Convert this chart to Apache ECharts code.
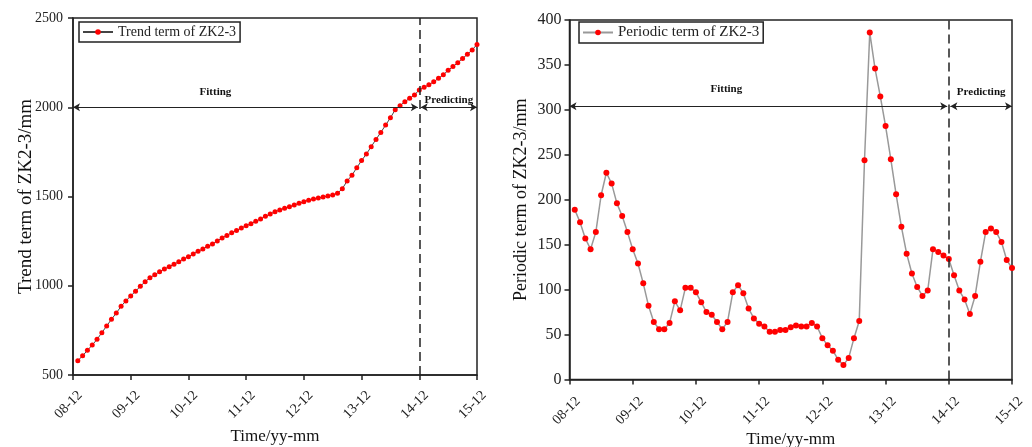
<!DOCTYPE html>
<html><head><meta charset="utf-8">
<script src="https://cdn.jsdelivr.net/npm/echarts@6/dist/echarts.min.js"></script>
<style>html,body{margin:0;padding:0;background:#fff}#c{width:1032px;height:447px}</style>
</head><body><div id="c"></div>
<script>
// Tick labels for the time axis (one per year, month index 0,12,...,84)
const tickLabels = ['08-12','09-12','10-12','11-12','12-12','13-12','14-12','15-12'];
// Trend term of ZK2-3 (mm), monthly from 09-01 to 15-12
const trendValues = [
  580,608,638,668,700,737,775,812,847,885,915,943,
  969,997,1023,1045,1062,1079,1094,1107,1120,1135,1150,1163,
  1178,1193,1206,1221,1234,1251,1268,1282,1297,1310,1324,1336,
  1348,1361,1374,1389,1402,1415,1424,1434,1443,1452,1462,1471,
  1479,1486,1492,1497,1503,1508,1518,1544,1587,1619,1661,1701,
  1738,1779,1820,1859,1900,1941,1986,2009,2031,2050,2069,2097,
  2112,2126,2143,2162,2182,2207,2228,2250,2273,2297,2321,2352
];
// Periodic term of ZK2-3 (mm), monthly from 09-01 to 15-12
const periodicValues = [
  189,175,157,145,164,205,230,218,196,182,164,145,
  129,107,82,64,56,56,63,87,77,102,102,97,
  86,75,72,64,56,64,97,105,96,79,68,62,
  59,53,53,55,55,58,60,59,59,63,59,46,
  38,32,22,16,24,46,65,244,386,346,315,282,
  245,206,170,140,118,103,93,99,145,142,138,134,
  116,99,89,73,93,131,164,168,164,153,133,124
];
const splitMonth = 72;           // 14-12
const trendArrowLevel = 2000;
const periodicArrowLevel = 304;
const legendNames = ['Trend term of ZK2-3','Periodic term of ZK2-3'];

const FONT = '"Liberation Serif","Times New Roman",serif';
const toPairs = arr => arr.map((v, i) => [i + 1, v]);

function xAxisOf(gi, gap, pad) {
  return {
    gridIndex: gi, type: 'value', min: 0, max: 84, interval: 12,
    name: 'Time/yy-mm', nameLocation: 'middle', nameGap: gap, nameMoveOverlap: false,
    nameTextStyle: {fontFamily: FONT, fontSize: 17, color: '#111'},
    axisLine: {show: true, onZero: false, lineStyle: {color: '#222', width: 1.5}},
    axisTick: {show: true, inside: false, length: 5, lineStyle: {color: '#222', width: 1.5}},
    axisLabel: {rotate: 45, fontFamily: FONT, fontSize: 14, color: '#222', margin: 7,
      verticalAlign: 'top', padding: pad,
      showMinLabel: true, showMaxLabel: true,
      formatter: v => tickLabels[Math.round(v / 12)] || ''},
    splitLine: {show: false}
  };
}
function yAxisOf(gi, min, max, interval, name, gap, fs, nfs, margin) {
  return {
    gridIndex: gi, type: 'value', min, max, interval,
    name, nameLocation: 'middle', nameGap: gap, nameMoveOverlap: false,
    nameTextStyle: {fontFamily: FONT, fontSize: nfs, color: '#111'},
    axisLine: {show: true, lineStyle: {color: '#222', width: 1.5}},
    axisTick: {show: true, inside: false, length: 5, lineStyle: {color: '#222', width: 1.5}},
    axisLabel: {fontFamily: FONT, fontSize: fs, color: '#222', margin,
      showMinLabel: true, showMaxLabel: true, formatter: v => String(v)},
    splitLine: {show: false}
  };
}
function marks(level, yMin, yMax, fitOffset, fitDist, predDist) {
  const lbl = (text, dist, off) => ({show: true, formatter: text, position: 'insideMiddleTop',
    distance: dist, offset: off, fontFamily: FONT, fontWeight: 'bold', fontSize: 11, color: '#111'});
  const arrowLine = {type: 'solid', color: '#222', width: 1};
  return {
    silent: true, animation: false, symbol: ['none', 'none'],
    data: [
      [{coord: [splitMonth, yMin], lineStyle: {type: [9, 5], color: '#222', width: 1.5}, label: {show: false}},
       {coord: [splitMonth, yMax]}],
      [{coord: [0, level], symbol: 'arrow', symbolSize: [6, 7], lineStyle: arrowLine, label: lbl('Fitting', fitDist, [fitOffset, 0])},
       {coord: [splitMonth - 0.3, level], symbol: 'arrow', symbolSize: [6, 7]}],
      [{coord: [splitMonth + 0.3, level], symbol: 'arrow', symbolSize: [6, 7], lineStyle: arrowLine, label: lbl('Predicting', predDist, [0, 0])},
       {coord: [84, level], symbol: 'arrow', symbolSize: [6, 7]}]
    ]
  };
}
function legendOf(left, top, name, fs) {
  return {
    data: [name], left, top, orient: 'vertical',
    borderColor: '#222', borderWidth: 1.5, padding: [3, 4, 3, 3],
    itemWidth: 30, itemHeight: 7, itemGap: 0,
    textStyle: {fontFamily: FONT, fontSize: fs, color: '#222'}
  };
}

const chart = echarts.init(document.getElementById('c'), null, {renderer: 'canvas'});
chart.setOption({
  animation: false,
  backgroundColor: '#fff',
  grid: [
    {left: 73, top: 18, width: 404, height: 357, show: true, borderColor: '#222', borderWidth: 1.5, containLabel: false, outerBoundsMode: 'none'},
    {left: 569.5, top: 20, width: 442.5, height: 359.5, show: true, borderColor: '#222', borderWidth: 1.5, containLabel: false, outerBoundsMode: 'none'}
  ],
  legend: [legendOf(79, 22, legendNames[0], 14), legendOf(579, 22, legendNames[1], 15)],
  xAxis: [xAxisOf(0, 53, [6, 3, 0, 0]), xAxisOf(1, 52, [8, 3, 0, 0])],
  yAxis: [
    yAxisOf(0, 500, 2500, 500, 'Trend term of ZK2-3/mm', 37, 14, 19, 10),
    yAxisOf(1, 0, 400, 50, 'Periodic term of ZK2-3/mm', 39, 16, 18, 8)
  ],
  series: [
    {name: legendNames[0], type: 'line', xAxisIndex: 0, yAxisIndex: 0,
     data: toPairs(trendValues), symbol: 'circle', symbolSize: 5, showAllSymbol: true,
     lineStyle: {color: '#444', width: 1}, itemStyle: {color: '#ff0000'},
     markLine: marks(trendArrowLevel, 500, 2500, -30, 10, 2)},
    {name: legendNames[1], type: 'line', xAxisIndex: 1, yAxisIndex: 1,
     data: toPairs(periodicValues), symbol: 'circle', symbolSize: 6, showAllSymbol: true,
     lineStyle: {color: '#999', width: 1.5}, itemStyle: {color: '#ff0000'},
     markLine: marks(periodicArrowLevel, 0, 400, -32, 12, 9)}
  ]
});
</script></body></html>
